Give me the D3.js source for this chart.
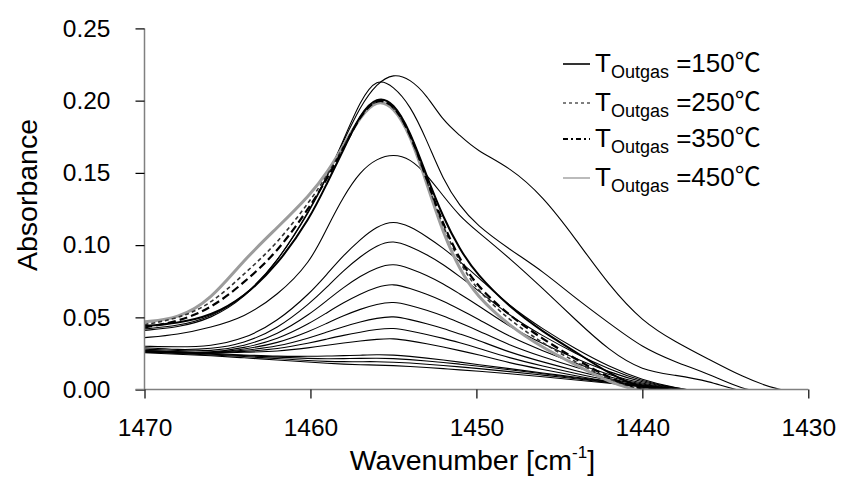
<!DOCTYPE html>
<html><head><meta charset="utf-8">
<script src="https://cdn.jsdelivr.net/npm/d3@7"></script>
<style>body{margin:0;background:#fff}svg{display:block}text{font-family:"Liberation Sans",Arial,sans-serif;fill:#000}</style>
</head><body>
<script>
const wavenumbers = [1470,1468,1466,1464,1462,1460,1459,1458,1457,1456,1455,1454,1453,1452,1451,1450,1448,1446,1444,1442,1440,1438,1436,1434,1432,1430];
const xTicks = [1470,1460,1450,1440,1430];
const yTicks = [0.00,0.05,0.10,0.15,0.20,0.25];

// Thin black spectra
const thin1 = [0.041,0.043,0.049,0.063,0.088,0.125,0.148,0.172,0.196,0.212,0.219,0.215,0.204,0.186,0.176,0.1655,0.154,0.134,0.104,0.072,0.047,0.033,0.021,0.009,0.000,-0.003];
const thin2 = [0.042,0.044,0.050,0.064,0.088,0.124,0.147,0.173,0.200,0.216,0.210,0.197,0.173,0.145,0.127,0.114,0.097,0.082,0.063,0.046,0.029,0.019,0.011,0.000,-0.003,-0.003];
const thin3 = [0.036,0.038,0.043,0.050,0.065,0.088,0.112,0.134,0.151,0.160,0.163,0.160,0.149,0.134,0.120,0.110,0.091,0.070,0.048,0.027,0.013,0.010,0.006,-0.002,-0.003,-0.003];
const mid1 = [0.030,0.0295,0.030,0.035,0.047,0.067,0.080,0.093,0.104,0.113,0.117,0.113,0.106,0.098,0.0886,0.079,0.0576,0.0419,0.0279,0.0158,0.0065,0.0009,-0.002,-0.003,-0.003,-0.003];
const mid2 = [0.029,0.0275,0.028,0.032,0.042,0.060,0.071,0.0825,0.092,0.100,0.1035,0.099,0.0936,0.0867,0.0782,0.0697,0.051,0.0371,0.0248,0.0141,0.0058,0.0008,-0.002,-0.003,-0.003,-0.003];
const mid3 = [0.028,0.027,0.0265,0.030,0.038,0.0525,0.0618,0.0708,0.0786,0.0845,0.0875,0.0838,0.0792,0.0733,0.0662,0.0592,0.0434,0.0317,0.0213,0.0121,0.0049,0.0006,-0.002,-0.003,-0.003,-0.003];
const mid4 = [0.027,0.026,0.0255,0.0288,0.0346,0.0461,0.0533,0.0602,0.0662,0.071,0.0735,0.070,0.0661,0.0613,0.0555,0.0496,0.0365,0.0268,0.018,0.0102,0.0041,0.0005,-0.002,-0.003,-0.003,-0.003];
const mid5 = [0.027,0.026,0.0253,0.0279,0.0319,0.0406,0.046,0.0512,0.0557,0.0592,0.061,0.0583,0.055,0.051,0.0462,0.0415,0.0306,0.0226,0.0153,0.0087,0.0035,0.0004,-0.002,-0.003,-0.003,-0.003];
const mid6 = [0.0265,0.026,0.0252,0.0271,0.0297,0.036,0.0399,0.0436,0.0469,0.0495,0.051,0.0485,0.0457,0.0424,0.0385,0.0347,0.0257,0.0191,0.013,0.0074,0.003,0.0003,-0.002,-0.003,-0.003,-0.003];
const mid7 = [0.026,0.0255,0.025,0.0264,0.028,0.0323,0.035,0.0376,0.0398,0.0417,0.0428,0.0406,0.0382,0.0355,0.0324,0.0292,0.0218,0.0163,0.0111,0.0063,0.0025,0.0002,-0.002,-0.003,-0.003,-0.003];
const mid8 = [0.026,0.0255,0.025,0.0259,0.0264,0.029,0.0307,0.0323,0.0337,0.0348,0.0355,0.0338,0.0317,0.0295,0.027,0.0245,0.0184,0.0139,0.0095,0.0054,0.0021,0.0001,-0.002,-0.003,-0.003,-0.003];
const low1 = [0.027,0.026,0.025,0.024,0.023,0.023,0.0232,0.0235,0.0238,0.0242,0.024,0.023,0.0218,0.0205,0.019,0.0175,0.0145,0.0115,0.0085,0.0055,0.0025,0.0003,-0.002,-0.003,-0.003,-0.003];
const low2 = [0.0265,0.0255,0.0245,0.0235,0.0225,0.0215,0.0213,0.0214,0.0216,0.0218,0.0215,0.0208,0.0198,0.0188,0.0176,0.0164,0.0138,0.011,0.008,0.005,0.002,0.0,-0.002,-0.003,-0.003,-0.003];
const low3 = [0.026,0.025,0.024,0.023,0.0215,0.020,0.0195,0.0193,0.0193,0.0194,0.019,0.0184,0.0176,0.0167,0.0157,0.0147,0.0125,0.010,0.0075,0.0048,0.002,0.0,-0.002,-0.003,-0.003,-0.003];
const low4 = [0.0255,0.0245,0.0235,0.022,0.0205,0.019,0.0182,0.0176,0.0172,0.017,0.0166,0.016,0.0153,0.0145,0.0137,0.0128,0.011,0.0089,0.0067,0.0044,0.002,0.0001,-0.002,-0.003,-0.003,-0.003];

// Outgassing-temperature spectra (legend series)
const outgas150 = [0.044,0.046,0.051,0.064,0.086,0.119,0.143,0.166,0.191,0.203,0.199,0.179,0.148,0.119,0.097,0.080,0.057,0.040,0.026,0.011,0.000,0.001,-0.003,-0.003,-0.003,-0.003];
const outgas250 = [0.045,0.049,0.059,0.080,0.101,0.131,0.148,0.168,0.190,0.202,0.197,0.178,0.145,0.112,0.088,0.069,0.048,0.032,0.019,0.007,-0.001,0.001,-0.003,-0.003,-0.003,-0.003];
const outgas350 = [0.043,0.047,0.056,0.074,0.095,0.127,0.146,0.167,0.190,0.202,0.198,0.178,0.146,0.114,0.090,0.072,0.051,0.035,0.021,0.008,-0.001,0.001,-0.003,-0.003,-0.003,-0.003];
const outgas450 = [0.047,0.049,0.062,0.090,0.112,0.135,0.150,0.169,0.189,0.201,0.196,0.177,0.143,0.108,0.083,0.065,0.044,0.029,0.017,0.005,-0.002,0.001,-0.003,-0.003,-0.003,-0.003];

const legendTemps = ["150","250","350","450"];

const W = 846, H = 481;
const svg = d3.select("body").append("svg").attr("width", W).attr("height", H);
const x = d3.scaleLinear().domain([1470,1430]).range([144.5,808.3]);
const y = d3.scaleLinear().domain([0,0.25]).range([389.6,28.4]);

svg.append("defs").append("clipPath").attr("id","plot")
  .append("rect").attr("x",x(1470)).attr("y",y(0.25)-2).attr("width",x(1430)-x(1470)).attr("height",y(0)-y(0.25)+1.2);

const line = d3.line().x((d,i)=>x(wavenumbers[i])).y(d=>y(d)).curve(d3.curveBasis);
const g = svg.append("g").attr("clip-path","url(#plot)");

[thin1,thin2,thin3,mid1,mid2,mid3,mid4,mid5,mid6,mid7,mid8,low1,low2,low3,low4].forEach(s=>{
  g.append("path").attr("d",line(s)).attr("fill","none").attr("stroke","#000").attr("stroke-width",1.1);
});

const styles = {
  "450": {data:outgas450, stroke:"#9c9c9c", w:3, dash:null, legW:1.6, legStroke:"#aaa", legDash:null},
  "250": {data:outgas250, stroke:"#333", w:1.6, dash:"4,3", legW:1.4, legStroke:"#555", legDash:"3,3"},
  "350": {data:outgas350, stroke:"#000", w:2.2, dash:"8,4", legW:1.8, legStroke:"#000", legDash:"5,3,2,3"},
  "150": {data:outgas150, stroke:"#000", w:2, dash:null, legW:1.6, legStroke:"#000", legDash:null}
};
["450","250","350","150"].forEach(k=>{
  const s = styles[k];
  const p = g.append("path").attr("d",line(s.data)).attr("fill","none").attr("stroke",s.stroke).attr("stroke-width",s.w);
  if (s.dash) p.attr("stroke-dasharray",s.dash);
});

// Axes
const yAxis = d3.axisLeft(y).tickValues(yTicks).tickFormat(d3.format(".2f")).tickSize(9).tickPadding(25);
const gy = svg.append("g").attr("transform",`translate(${x(1470)},0)`).call(yAxis);
const xAxis = d3.axisBottom(x).tickValues(xTicks).tickFormat(d3.format("d")).tickSize(9).tickPadding(20);
const gx = svg.append("g").attr("transform",`translate(0,${y(0)})`).call(xAxis);
[gx,gy].forEach(a=>{
  a.select(".domain").attr("stroke","#808080").attr("stroke-width",1.5);
  a.selectAll(".tick line").attr("stroke","#000").attr("stroke-width",1.2);
  a.selectAll(".tick text").attr("font-size",24.5).attr("font-family","Liberation Sans, Arial, sans-serif").attr("fill","#000");
});
gy.select(".domain").attr("d",`M0,${y(0)}V${y(0.25)}`);
gx.select(".domain").attr("d",`M${x(1470)-9},0H${x(1430)}`);

// Axis titles
svg.append("text").attr("transform",`translate(37,${(y(0)+y(0.25))/2 - 14}) rotate(-90)`)
  .attr("text-anchor","middle").attr("font-size",28.5).text("Absorbance");
const xt = svg.append("text").attr("x",(x(1470)+x(1430))/2 - 4).attr("y",470).attr("text-anchor","middle").attr("font-size",28.5);
xt.append("tspan").text("Wavenumber [cm");
xt.append("tspan").attr("font-size",17).attr("dy",-12).text("-1");
xt.append("tspan").attr("dy",12).text("]");

// Legend
const legY = [64,103,139,178];
["150","250","350","450"].forEach((k,i)=>{
  const s = styles[k];
  const l = svg.append("line").attr("x1",563).attr("x2",590).attr("y1",legY[i]).attr("y2",legY[i])
    .attr("stroke",s.legStroke).attr("stroke-width",s.legW);
  if (s.legDash) l.attr("stroke-dasharray", s.legDash);
  const t = svg.append("text").attr("x",595).attr("y",legY[i]+8).attr("font-size",26);
  t.append("tspan").text("T");
  t.append("tspan").attr("font-size",18).attr("dy",6).text("Outgas");
  t.append("tspan").attr("dy",-6).text(" =" + k);
  t.append("tspan").attr("font-family","Noto Sans CJK SC").attr("font-size",26).text("℃");
});
</script>
</body></html>
